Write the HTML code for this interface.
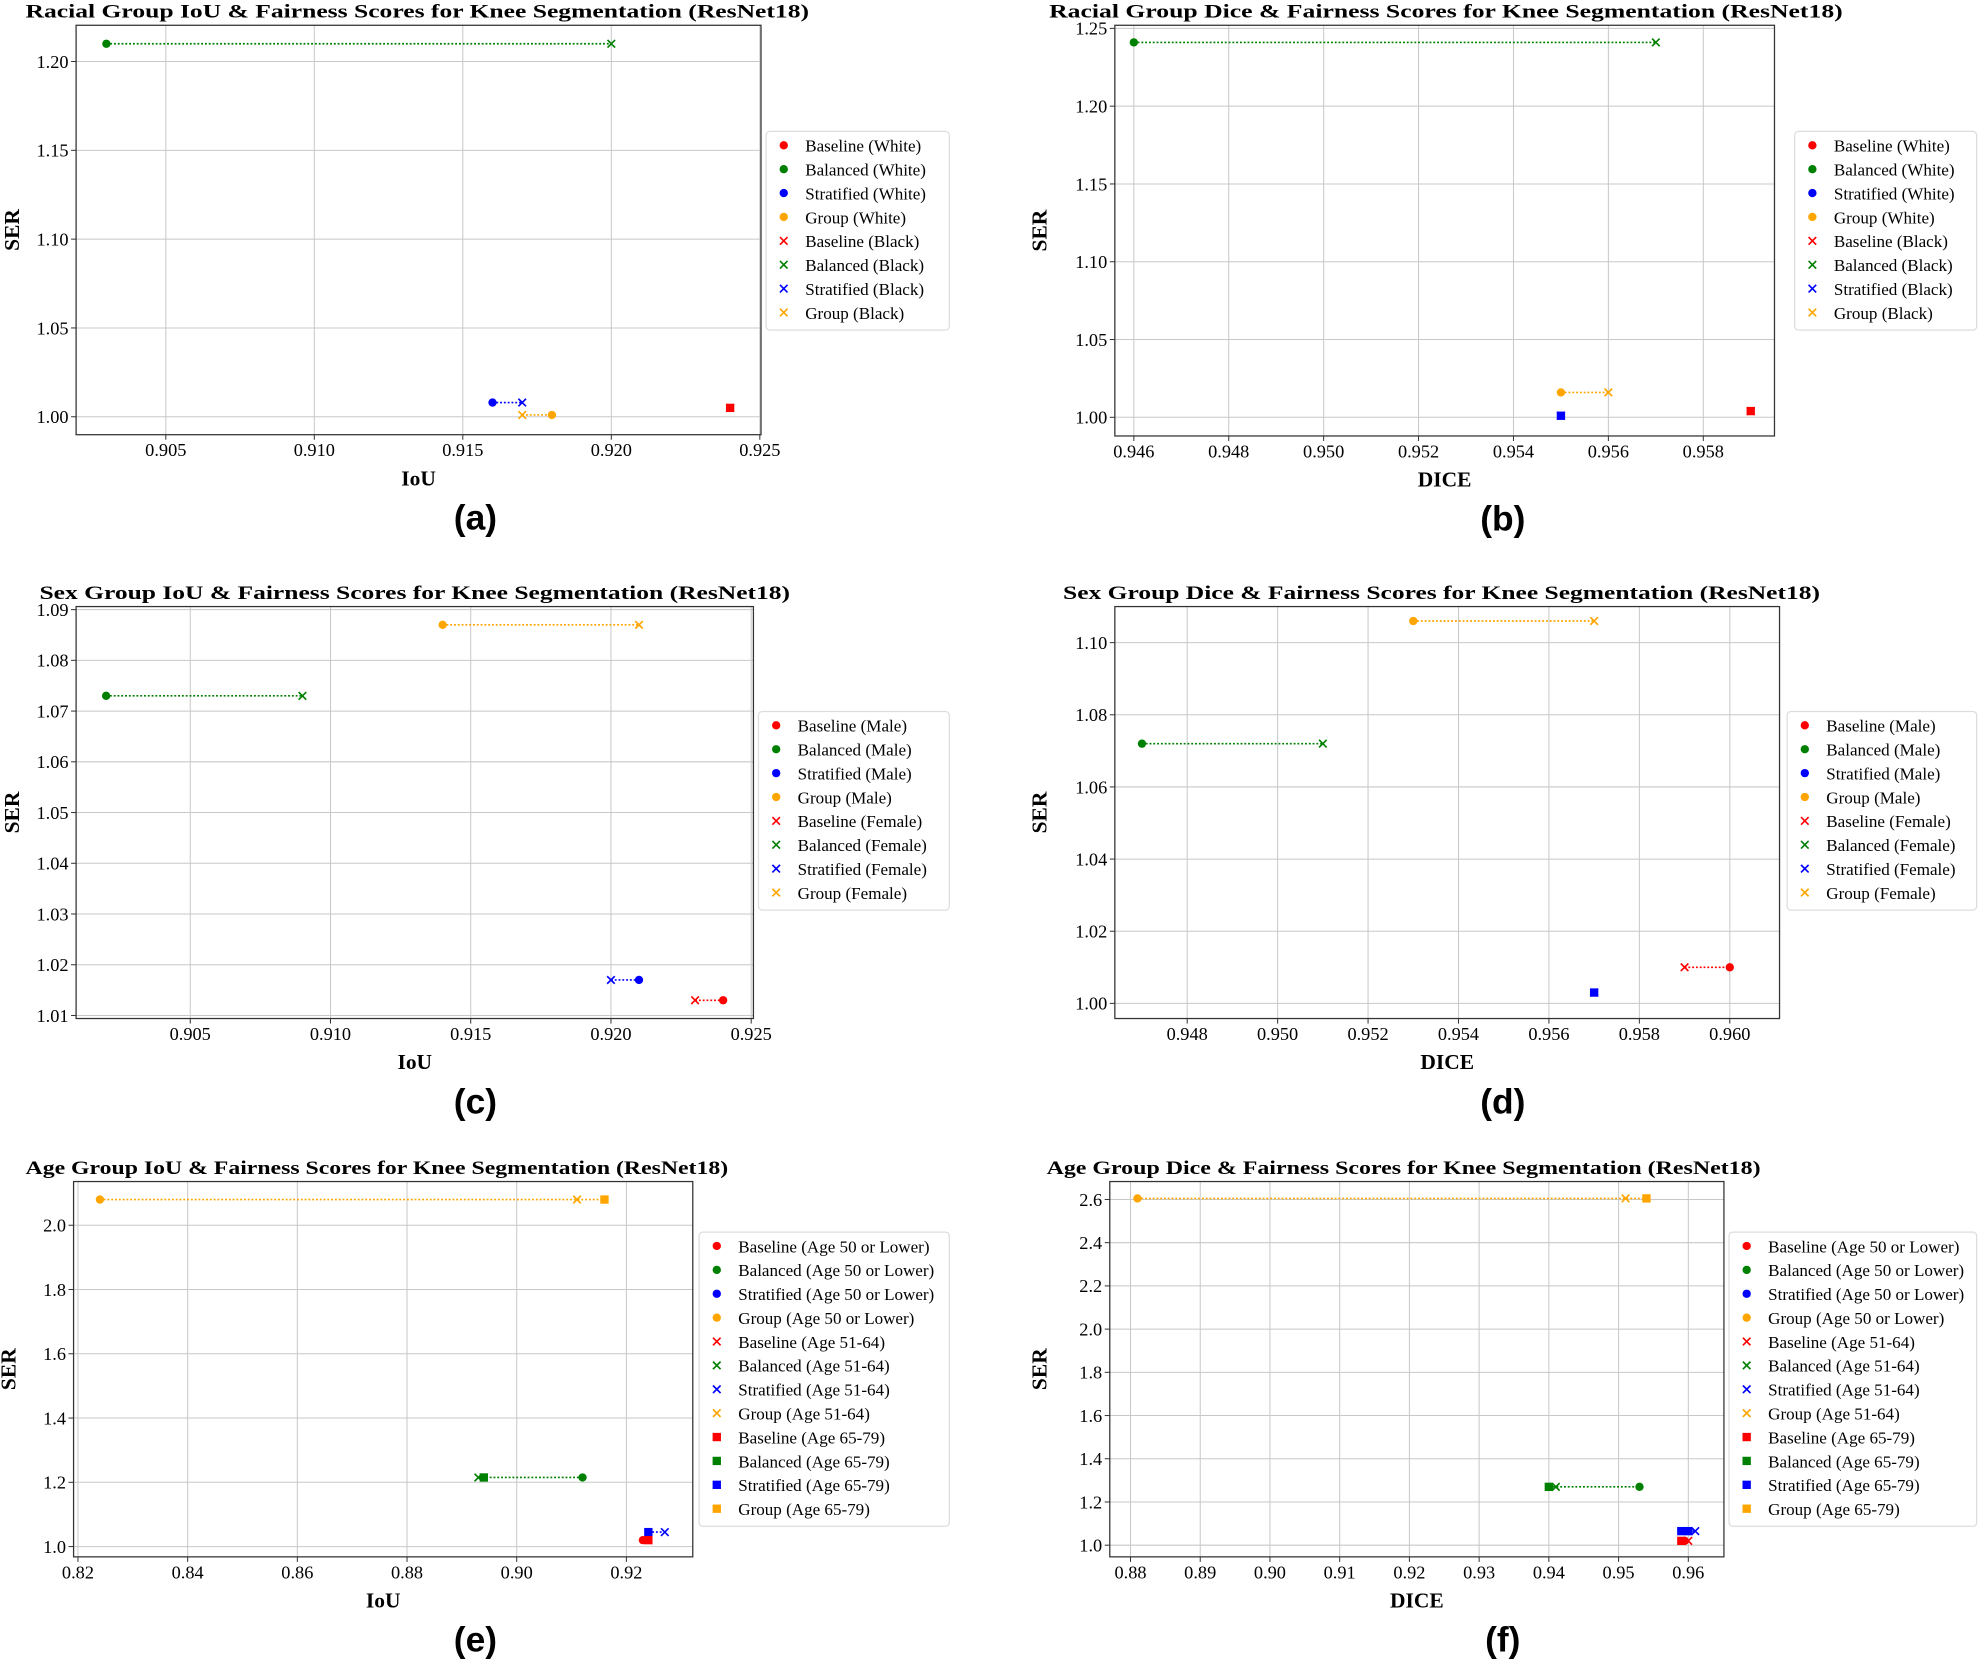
<!DOCTYPE html>
<html><head><meta charset="utf-8"><style>
html,body{margin:0;padding:0;background:#fff;}
svg{display:block;}
</style></head><body>
<svg id="s" width="1982" height="1663" viewBox="0 0 1568 1316" xmlns="http://www.w3.org/2000/svg"></svg>
<script>
const C={r:'#ff0000',g:'#008000',b:'#0000ff',o:'#ffa500'};
let out='';
function mk(t,x,y,c){
  if(t==='o') return `<circle cx="${x}" cy="${y}" r="3.3" fill="${c}"/>`;
  if(t==='s') return `<rect x="${x-3.3}" y="${y-3.3}" width="6.6" height="6.6" fill="${c}"/>`;
  const d=3;return `<path d="M${x-d} ${y-d}L${x+d} ${y+d}M${x-d} ${y+d}L${x+d} ${y-d}" stroke="${c}" stroke-width="1.3"/>`;
}
function panel(p){
  const {L,R,T,B,xl,yl}=p;
  const X=v=>L+(v-xl[0])/(xl[1]-xl[0])*(R-L);
  const Y=v=>B-(v-yl[0])/(yl[1]-yl[0])*(B-T);
  let s='';
  s+=`<text x="${p.tx}" y="${p.ty}" font-family="Liberation Serif,serif" font-weight="bold" font-size="15" textLength="${p.tw}" lengthAdjust="spacingAndGlyphs">${p.title}</text>`;
  p.xt.forEach(v=>{const x=X(v);s+=`<line x1="${x}" y1="${T}" x2="${x}" y2="${B}" stroke="#c8c8c8" stroke-width="0.8"/><line x1="${x}" y1="${B}" x2="${x}" y2="${B+4}" stroke="#333" stroke-width="0.8"/><text x="${x}" y="${B+17}" text-anchor="middle" font-family="Liberation Serif,serif" font-size="14.5">${v.toFixed(p.xd)}</text>`;});
  p.yt.forEach(v=>{const y=Y(v);s+=`<line x1="${L}" y1="${y}" x2="${R}" y2="${y}" stroke="#c8c8c8" stroke-width="0.8"/><line x1="${L-4}" y1="${y}" x2="${L}" y2="${y}" stroke="#333" stroke-width="0.8"/><text x="${L-6}" y="${y+5}" text-anchor="end" font-family="Liberation Serif,serif" font-size="14.5">${v.toFixed(p.yd)}</text>`;});
  s+=`<rect x="${L}" y="${T}" width="${R-L}" height="${B-T}" fill="none" stroke="#333" stroke-width="1"/>`;
  p.lines.forEach(l=>{s+=`<line x1="${X(l[0])}" y1="${Y(l[2])}" x2="${X(l[1])}" y2="${Y(l[2])}" stroke="${C[l[3]]}" stroke-width="1.3" stroke-dasharray="1.5,1.5"/>`;});
  p.pts.forEach(q=>{s+=mk(q[0],X(q[1]),Y(q[2]),C[q[3]]);});
  s+=`<text x="${(L+R)/2}" y="${B+40}" text-anchor="middle" font-family="Liberation Serif,serif" font-weight="bold" font-size="17">${p.xlab}</text>`;
  s+=`<text transform="translate(${p.yx},${(T+B)/2}) rotate(-90)" text-anchor="middle" font-family="Liberation Serif,serif" font-weight="bold" font-size="17">SER</text>`;
  s+=`<text x="${p.lx}" y="${B+75}" text-anchor="middle" font-family="Liberation Sans,sans-serif" font-weight="bold" font-size="28">${p.lab}</text>`;
  const n=p.leg.length;const lh=18.9;const h=n*lh+6;
  s+=`<rect x="${p.gx}" y="${p.gy}" width="${p.gw}" height="${h}" rx="3" fill="#fff" stroke="#ddd" stroke-width="1"/>`;
  p.leg.forEach((e,i)=>{const y=p.gy+11+i*lh;s+=mk(e[0],p.gx+14,y,C[e[1]]);s+=`<text x="${p.gx+31}" y="${y+5}" font-family="Liberation Serif,serif" font-size="13.5">${e[2]}</text>`;});
  out+=s;
}
function legs(a,b){const m=['r','g','b','o'],nm=['Baseline','Balanced','Stratified','Group'];let r=[];
 [['o',a],['x',b]].forEach(t=>m.forEach((c,i)=>r.push([t[0],c,`${nm[i]} (${t[1]})`])));return r;}
function legs3(){const m=['r','g','b','o'],nm=['Baseline','Balanced','Stratified','Group'];let r=[];
 [['o','Age 50 or Lower'],['x','Age 51-64'],['s','Age 65-79']].forEach(t=>m.forEach((c,i)=>r.push([t[0],c,`${nm[i]} (${t[1]})`])));return r;}
const IoUx=[0.905,0.910,0.915,0.920,0.925];
panel({L:60,R:602,T:20,B:344,xl:[0.90198,0.92504],yl:[0.9899,1.2204],tx:20,ty:14,tw:620,
 title:'Racial Group IoU &amp; Fairness Scores for Knee Segmentation (ResNet18)',xt:IoUx,xd:3,yt:[1.00,1.05,1.10,1.15,1.20],yd:2,
 lines:[[0.903,0.920,1.21,'g'],[0.916,0.917,1.008,'b'],[0.917,0.918,1.001,'o']],
 pts:[['o',0.903,1.21,'g'],['x',0.920,1.21,'g'],['o',0.916,1.008,'b'],['x',0.917,1.008,'b'],['x',0.917,1.001,'o'],['o',0.918,1.001,'o'],['s',0.924,1.005,'r'],['x',0.924,1.005,'r']],
 xlab:'IoU',yx:15,lab:'(a)',lx:376,gx:606,gy:104,gw:145,leg:legs('White','Black')});
panel({L:882,R:1404,T:20,B:345,xl:[0.9456,0.9595],yl:[0.988,1.252],tx:830,ty:14,tw:628,
 title:'Racial Group Dice &amp; Fairness Scores for Knee Segmentation (ResNet18)',xt:[0.946,0.948,0.950,0.952,0.954,0.956,0.958],xd:3,yt:[1.00,1.05,1.10,1.15,1.20,1.25],yd:2,
 lines:[[0.946,0.957,1.241,'g'],[0.955,0.956,1.016,'o']],
 pts:[['o',0.946,1.241,'g'],['x',0.957,1.241,'g'],['o',0.955,1.016,'o'],['x',0.956,1.016,'o'],['s',0.955,1.001,'b'],['x',0.955,1.001,'b'],['s',0.959,1.004,'r'],['x',0.959,1.004,'r']],
 xlab:'DICE',yx:828,lab:'(b)',lx:1189,gx:1420,gy:104,gw:144,leg:legs('White','Black')});
panel({L:60,R:596,T:480,B:806,xl:[0.90093,0.92508],yl:[1.0094,1.0906],tx:31,ty:474,tw:594,
 title:'Sex Group IoU &amp; Fairness Scores for Knee Segmentation (ResNet18)',xt:IoUx,xd:3,yt:[1.01,1.02,1.03,1.04,1.05,1.06,1.07,1.08,1.09],yd:2,
 lines:[[0.902,0.909,1.073,'g'],[0.914,0.921,1.087,'o'],[0.920,0.921,1.017,'b'],[0.923,0.924,1.013,'r']],
 pts:[['o',0.902,1.073,'g'],['x',0.909,1.073,'g'],['o',0.914,1.087,'o'],['x',0.921,1.087,'o'],['x',0.920,1.017,'b'],['o',0.921,1.017,'b'],['x',0.923,1.013,'r'],['o',0.924,1.013,'r']],
 xlab:'IoU',yx:15,lab:'(c)',lx:376,gx:600,gy:563,gw:151,leg:legs('Male','Female')});
panel({L:882,R:1408,T:480,B:806,xl:[0.9464,0.9611],yl:[0.9958,1.110],tx:841,ty:474,tw:599,
 title:'Sex Group Dice &amp; Fairness Scores for Knee Segmentation (ResNet18)',xt:[0.948,0.950,0.952,0.954,0.956,0.958,0.960],xd:3,yt:[1.00,1.02,1.04,1.06,1.08,1.10],yd:2,
 lines:[[0.947,0.951,1.072,'g'],[0.953,0.957,1.106,'o'],[0.959,0.960,1.010,'r']],
 pts:[['o',0.947,1.072,'g'],['x',0.951,1.072,'g'],['o',0.953,1.106,'o'],['x',0.957,1.106,'o'],['s',0.957,1.003,'b'],['x',0.957,1.003,'b'],['x',0.959,1.010,'r'],['o',0.960,1.010,'r']],
 xlab:'DICE',yx:828,lab:'(d)',lx:1189,gx:1414,gy:563,gw:150,leg:legs('Male','Female')});
panel({L:58,R:548,T:935,B:1232,xl:[0.8192,0.9321],yl:[0.968,2.136],tx:20,ty:929,tw:556,
 title:'Age Group IoU &amp; Fairness Scores for Knee Segmentation (ResNet18)',xt:[0.82,0.84,0.86,0.88,0.90,0.92],xd:2,yt:[1.0,1.2,1.4,1.6,1.8,2.0],yd:1,
 lines:[[0.824,0.916,2.08,'o'],[0.893,0.912,1.215,'g'],[0.924,0.927,1.045,'b']],
 pts:[['o',0.824,2.08,'o'],['x',0.911,2.08,'o'],['s',0.916,2.08,'o'],['x',0.893,1.215,'g'],['s',0.894,1.215,'g'],['o',0.912,1.215,'g'],['s',0.924,1.045,'b'],['x',0.927,1.045,'b'],['o',0.923,1.02,'r'],['x',0.924,1.02,'r'],['s',0.924,1.02,'r']],
 xlab:'IoU',yx:12,lab:'(e)',lx:376,gx:553,gy:975,gw:198,leg:legs3()});
panel({L:878,R:1364,T:935,B:1232,xl:[0.87703,0.96511],yl:[0.946,2.683],tx:828,ty:929,tw:565,
 title:'Age Group Dice &amp; Fairness Scores for Knee Segmentation (ResNet18)',xt:[0.88,0.89,0.90,0.91,0.92,0.93,0.94,0.95,0.96],xd:2,yt:[1.0,1.2,1.4,1.6,1.8,2.0,2.2,2.4,2.6],yd:1,
 lines:[[0.881,0.954,2.605,'o'],[0.940,0.953,1.27,'g'],[0.959,0.961,1.065,'b']],
 pts:[['o',0.881,2.605,'o'],['x',0.951,2.605,'o'],['s',0.954,2.605,'o'],['s',0.940,1.27,'g'],['x',0.941,1.27,'g'],['o',0.953,1.27,'g'],['s',0.959,1.065,'b'],['s',0.960,1.065,'b'],['x',0.961,1.065,'b'],['s',0.959,1.02,'r'],['o',0.9595,1.02,'r'],['x',0.960,1.02,'r']],
 xlab:'DICE',yx:828,lab:'(f)',lx:1189,gx:1368,gy:975,gw:196,leg:legs3()});
document.getElementById('s').innerHTML=out;
</script>
</body></html>
